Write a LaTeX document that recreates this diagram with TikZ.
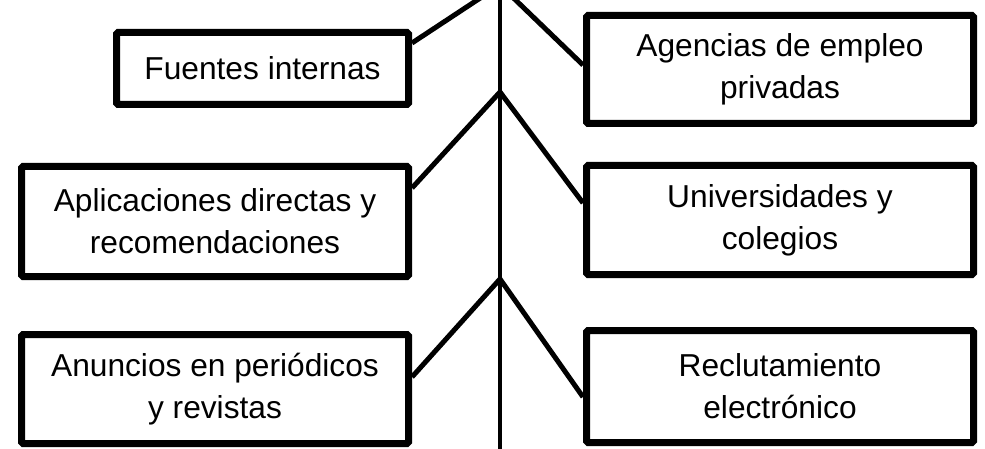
\documentclass[tikz,border=0pt]{standalone}
\usepackage{fontspec}
\setmainfont{Liberation Sans}
\begin{document}
\begin{tikzpicture}[x=1pt,y=-1pt,
  box/.style={draw=black, line width=7pt, rounded corners=1.5pt, inner sep=0pt,
    align=center, font=\fontsize{31.7}{42}\selectfont, text=black},
  link/.style={draw=black, line width=5pt},
  spine/.style={draw=black, line width=4.5pt}]
\useasboundingbox (0,0) rectangle (985,449);
\clip (0,0) rectangle (985,449);
\node[box, minimum width=292pt, minimum height=72pt] (b1) at (262.5,68.5) {Fuentes internas};
\node[box, minimum width=387pt, minimum height=108pt] (b2) at (780,69.5) {Agencias de empleo\\privadas};
\node[box, minimum width=387pt, minimum height=110pt] (b3) at (215,221.5) {Aplicaciones directas y\\recomendaciones};
\node[box, minimum width=387pt, minimum height=109pt] (b4) at (780,220) {Universidades y\\colegios};
\node[box, minimum width=387pt, minimum height=109pt] (b5) at (215,389) {Anuncios en periódicos\\y revistas};
\node[box, minimum width=387pt, minimum height=112pt] (b6) at (780,386.5) {Reclutamiento\\electrónico};
\coordinate (top) at (500,-20);
\coordinate (bottom) at (500,455);
\coordinate (j1) at (500,-15);
\coordinate (j2) at (500,92);
\coordinate (j3) at (500,279);
\draw[spine] (top) -- (bottom);
\draw[link, line join=miter] ([yshift=25.5pt]b1.east) -- (j1) -- ([yshift=4.5pt]b2.west);
\draw[link, line join=miter] ([yshift=33.5pt]b3.east) -- (j2) -- ([yshift=17pt]b4.west);
\draw[link, line join=miter] ([yshift=12pt]b5.east) -- (j3) -- ([yshift=-10.5pt]b6.west);
\end{tikzpicture}
\end{document}
